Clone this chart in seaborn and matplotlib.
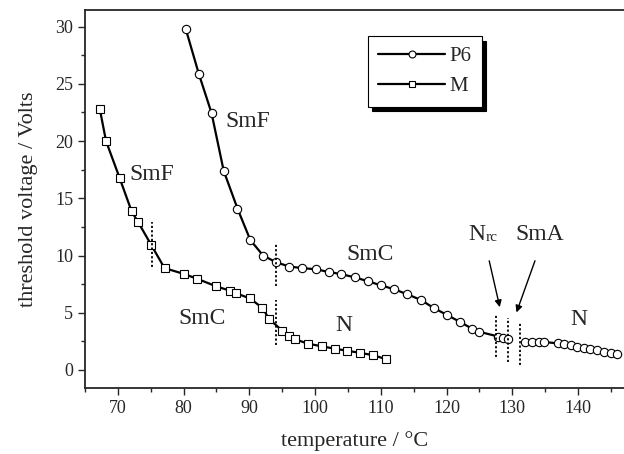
import numpy as np
import pandas as pd
import matplotlib
matplotlib.use('Agg')
import matplotlib.pyplot as plt
import seaborn as sns
from matplotlib.lines import Line2D

# P6 threshold voltage (two branches, break at SmA)
p6_temp_a = [80.35, 82.3, 84.25, 86.1, 88.2, 90.15, 92.1, 94.1, 96.1, 98.05, 100.1, 102.05,
             104.0, 106.0, 108.0, 110.0, 112.0, 114.0, 116.1, 118.1, 120.1, 122.05, 123.9,
             124.9, 127.9, 128.6, 129.3]
p6_volt_a = [29.75, 25.9, 22.45, 17.4, 14.1, 11.35, 10.0, 9.4, 9.04, 8.9, 8.8, 8.57,
             8.37, 8.1, 7.76, 7.4, 7.06, 6.62, 6.12, 5.4, 4.8, 4.2, 3.6,
             3.35, 2.92, 2.8, 2.69]
p6_temp_b = [132.0, 133.05, 134.1, 134.9, 136.9, 137.9, 138.9, 139.9, 140.9, 141.9, 142.9,
             143.9, 145.0, 146.0]
p6_volt_b = [2.48, 2.46, 2.45, 2.44, 2.33, 2.24, 2.16, 2.04, 1.95, 1.84, 1.75,
             1.6, 1.52, 1.37]

# M threshold voltage
m_temp = [67.25, 68.2, 70.25, 72.1, 73.1, 75.1, 77.1, 80.0, 82.1, 85.0, 87.0, 88.0, 90.1,
          92.0, 93.0, 95.0, 96.0, 97.0, 98.9, 101.0, 103.0, 104.8, 106.8, 108.8, 110.8]
m_volt = [22.8, 20.0, 16.8, 13.85, 12.9, 10.9, 8.9, 8.4, 7.96, 7.3, 6.94, 6.7, 6.25,
          5.42, 4.46, 3.44, 3.0, 2.68, 2.3, 2.07, 1.86, 1.69, 1.5, 1.3, 0.95]

# phase transitions (temperature, v_low, v_high)
trans_T = [75.15, 94.1, 94.1, 127.5, 129.3, 131.2]
trans_lo = [9.0, 2.2, 7.3, 1.17, 0.73, 0.44]
trans_hi = [12.9, 6.1, 11.1, 4.8, 4.5, 4.2]

labels = ['SmF', 'SmF', 'SmC', 'SmC', 'N', 'SmA', 'N']
label_T = [75.2, 89.8, 82.8, 108.4, 104.4, 134.1, 140.2]
label_V = [17.1, 21.7, 4.5, 10.1, 3.9, 11.8, 4.4]

sns.set_style('ticks')
plt.rcParams['font.family'] = ['Liberation Serif', 'DejaVu Serif']

fig = plt.figure(figsize=(6.24, 4.54), dpi=100)
ax = fig.add_axes([85/624, 65.7/454, 539/624, 378.3/454])

p6a = pd.DataFrame({'T': p6_temp_a, 'V': p6_volt_a})
p6b = pd.DataFrame({'T': p6_temp_b, 'V': p6_volt_b})
mdf = pd.DataFrame({'T': m_temp, 'V': m_volt})

kw = dict(color='black', linewidth=1.6, markerfacecolor='white', markeredgecolor='black',
          markeredgewidth=0.8, sort=False, estimator=None)
sns.lineplot(data=p6a, x='T', y='V', marker='o', markersize=6, ax=ax, **kw)
sns.lineplot(data=p6b, x='T', y='V', marker='o', markersize=6, ax=ax, **kw)
sns.lineplot(data=mdf, x='T', y='V', marker='s', markersize=6, ax=ax, **kw)

for t, lo, hi in zip(trans_T, trans_lo, trans_hi):
    ax.plot([t, t], [lo, hi], color='black', linestyle=(0, (1.2, 1.2)), linewidth=1.3)

for s, t, v in zip(labels, label_T, label_V):
    ax.text(t, v, s, fontsize=17, ha='center', va='center')
ax.text(125.9, 11.8, 'N', fontsize=17, ha='right', va='center')
ax.text(125.9, 11.55, 'rc', fontsize=11, ha='left', va='center')

ax.annotate('', xy=(128.2, 5.25), xytext=(126.4, 9.77),
            arrowprops=dict(arrowstyle='-|>', color='black', lw=1.0, mutation_scale=10))
ax.annotate('', xy=(130.5, 4.8), xytext=(133.6, 9.77),
            arrowprops=dict(arrowstyle='-|>', color='black', lw=1.0, mutation_scale=10))

ax.set_xlim(65, 147)
ax.set_ylim(-1.6, 31.45)
ax.set_xticks(np.arange(70, 146, 10))
ax.set_xticks(np.arange(65, 147, 5), minor=True)
ax.set_yticks(np.arange(0, 31, 5))
ax.set_yticks(np.arange(0, 31, 2.5), minor=True)
ax.tick_params(which='major', length=5, width=1.0, labelsize=13, direction='out')
ax.tick_params(which='minor', length=3, width=1.0, direction='out')
for side in ['left', 'bottom', 'top']:
    ax.spines[side].set_linewidth(1.3)
ax.spines['right'].set_visible(False)

ax.set_xlabel('temperature / °C', fontsize=16, labelpad=10)
ax.set_ylabel('threshold voltage / Volts', fontsize=16, labelpad=12)

handles = [Line2D([], [], color='black', lw=1.6, marker='o', markersize=5,
                  markerfacecolor='white', markeredgecolor='black', markeredgewidth=0.8),
           Line2D([], [], color='black', lw=1.6, marker='s', markersize=5,
                  markerfacecolor='white', markeredgecolor='black', markeredgewidth=0.8)]
leg = ax.legend(handles, ['P6', 'M'], loc='upper left', bbox_to_anchor=(0.525, 0.93),
                borderaxespad=0, fontsize=15, handlelength=3.2, handletextpad=0.2,
                fancybox=False, edgecolor='black', framealpha=1,
                shadow={'color': 'black', 'alpha': 1, 'ox': 3, 'oy': -3},
                labelspacing=0.5, borderpad=0.5)
leg.get_frame().set_linewidth(0.8)

fig.savefig('out.png', dpi=100)
